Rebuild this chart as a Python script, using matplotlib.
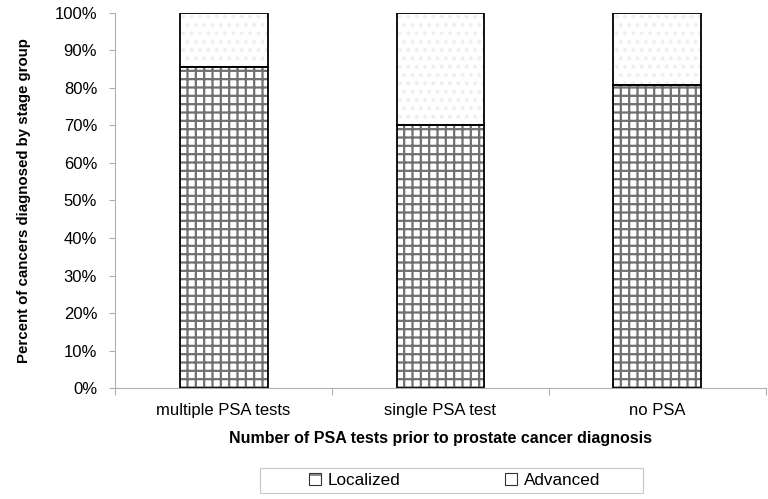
import numpy as np
import matplotlib.pyplot as plt
from matplotlib.patches import Patch, Rectangle

plt.rcParams['font.family'] = ['Liberation Sans', 'DejaVu Sans']

categories = ['multiple PSA tests', 'single PSA test', 'no PSA']
localized = [85.6, 70.0, 80.7]
advanced = [14.4, 30.0, 19.3]

fig = plt.figure(figsize=(7.68, 4.99), dpi=100)
ax = fig.add_axes([0.150, 0.2224, 0.847, 0.7516])

x = np.arange(len(categories))
w = 0.405

plt.rcParams['hatch.linewidth'] = 1.6
# hatched fills (hatch colour comes from edgecolor), then black outlines on top
ax.bar(x, localized, w, color='white', edgecolor='#707070', hatch='++', linewidth=0)
ax.bar(x, advanced, w, bottom=localized, color='white', edgecolor='#efefef', hatch='..', linewidth=0)
ax.bar(x, localized, w, fill=False, edgecolor='black', linewidth=1.3)
ax.bar(x, advanced, w, bottom=localized, fill=False, edgecolor='black', linewidth=1.3)

ax.set_xlim(-0.5, 2.5)
ax.set_ylim(0, 100)
ax.set_yticks(np.arange(0, 101, 10))
ax.set_yticklabels(['%d%%' % v for v in range(0, 101, 10)], fontsize=12)
ax.set_xticks([-0.5, 0.5, 1.5, 2.5], minor=False)
ax.set_xticklabels([])
ax.set_xticks(x, minor=True)
ax.set_xticklabels(categories, minor=True, fontsize=12)
ax.tick_params(axis='x', which='minor', length=0, pad=11)
ax.tick_params(axis='x', which='major', length=5, color='#b0b0b0', direction='out')
ax.tick_params(axis='y', length=4, color='#b0b0b0', pad=9)

for s in ['top', 'right']:
    ax.spines[s].set_visible(False)
for s in ['left', 'bottom']:
    ax.spines[s].set_color('#b0b0b0')
    ax.spines[s].set_linewidth(0.8)

ax.set_ylabel('Percent of cancers diagnosed by stage group', fontsize=10.8, fontweight='bold')
ax.yaxis.set_label_coords(-0.129, 0.5)
ax.set_xlabel('Number of PSA tests prior to prostate cancer diagnosis', fontsize=11.5, fontweight='bold', labelpad=9)

plt.rcParams['hatch.linewidth'] = 0.8
handles = [Patch(facecolor='white', edgecolor='#333333', hatch='+', linewidth=0.8),
           Patch(facecolor='white', edgecolor='#333333', linewidth=0.8)]
leg = fig.legend(handles, ['Localized', 'Advanced'], loc='center', bbox_to_anchor=(0.592, 0.037),
                 ncol=2, fontsize=12.3, frameon=False, handlelength=0.7, handleheight=0.7,
                 columnspacing=6.1, borderpad=0, handletextpad=0.4, borderaxespad=0)
# Excel-style wide legend box
fig.add_artist(Rectangle((260 / 768, 1 - 493 / 499), 383 / 768, 25 / 499, transform=fig.transFigure,
                         facecolor='none', edgecolor='#c8c8c8', linewidth=0.8))

fig.savefig('out.png', dpi=100)
